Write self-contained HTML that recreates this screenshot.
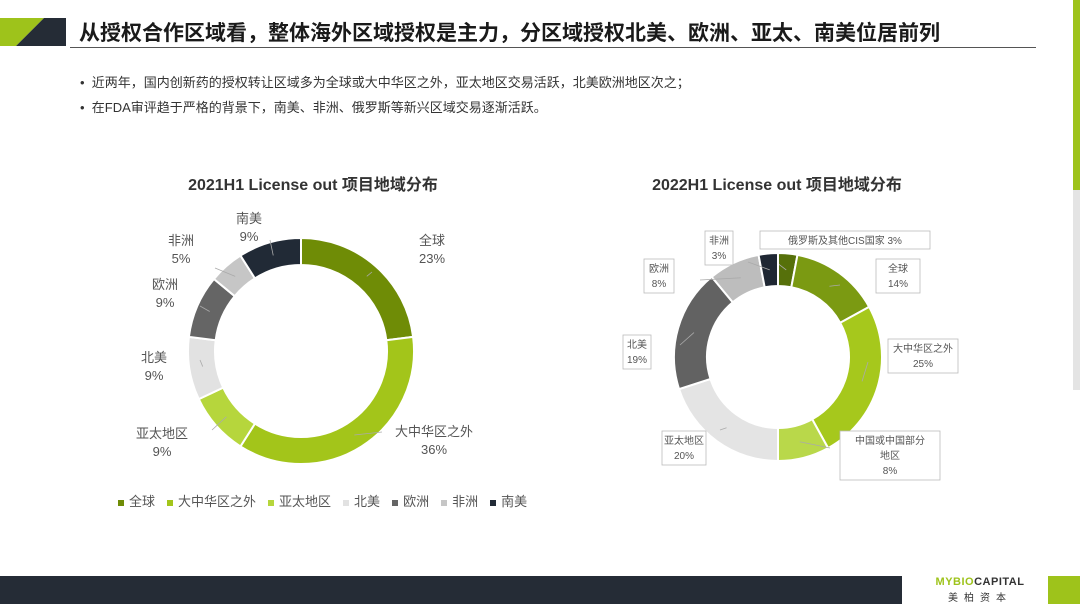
<!DOCTYPE html>
<html><head><meta charset="utf-8">
<style>
body{margin:0;width:1080px;height:608px;background:#fff;position:relative;overflow:hidden;font-family:"Liberation Sans","Noto Sans CJK SC",sans-serif;}
.abs{position:absolute;}
</style></head><body>
<div class="abs" style="left:0;top:0;width:1080px;height:50px;">
<svg width="1080" height="50">
<polygon points="0,18 44,18 16,46 0,46" fill="#9ec31b"/>
<polygon points="44,18 66,18 66,46 16,46" fill="#252c36"/>
<line x1="70" y1="47.5" x2="1036" y2="47.5" stroke="#555" stroke-width="1"/>
</svg>
<div class="abs" style="left:79px;top:17px;font-size:21px;font-weight:bold;color:#1a1a1a;white-space:nowrap;">从授权合作区域看，整体海外区域授权是主力，分区域授权北美、欧洲、亚太、南美位居前列</div>
</div>
<div class="abs" style="left:1073px;top:0;width:7px;height:190px;background:#9ec31b"></div>
<div class="abs" style="left:1073px;top:190px;width:7px;height:200px;background:#e4e4e4"></div>
<div class="abs" style="left:80px;top:72px;font-size:13px;color:#333;">•&nbsp; 近两年，国内创新药的授权转让区域多为全球或大中华区之外，亚太地区交易活跃，北美欧洲地区次之；</div>
<div class="abs" style="left:80px;top:97px;font-size:13px;color:#333;">•&nbsp; 在FDA审评趋于严格的背景下，南美、非洲、俄罗斯等新兴区域交易逐渐活跃。</div>

<svg class="abs" style="left:0;top:0" width="1080" height="608" id="charts">
<text x="313" y="190" text-anchor="middle" font-size="16" font-weight="bold" fill="#333">2021H1 License out 项目地域分布</text>
<text x="777" y="190" text-anchor="middle" font-size="16" font-weight="bold" fill="#333">2022H1 License out 项目地域分布</text>
<g id="c1"></g><g id="c2"></g>
</svg>

<div class="abs" style="left:118px;top:491px;font-size:13px;color:#555;white-space:nowrap;" id="legend"></div>

<div class="abs" style="left:0;top:576px;width:902px;height:28px;background:#252c36"></div>
<div class="abs" style="left:930px;top:576px;width:100px;text-align:center;">
<div style="font-size:11px;font-weight:bold;color:#333;letter-spacing:0.5px"><span style="color:#9ec31b">MYBIO</span>CAPITAL</div>
<div style="font-size:10px;color:#333;letter-spacing:6px;margin-top:1px">美柏资本</div></div>
<div class="abs" style="left:1048px;top:576px;width:32px;height:28px;background:#9ec31b"></div>

<script>
const cats1=["全球","大中华区之外","亚太地区","北美","欧洲","非洲","南美"];
const vals1=[23,36,9,9,9,5,9];
const cols1=["#6f8c06","#a3c51a","#b6d63c","#e2e2e2","#656565","#c6c6c6","#212a36"];
const cats2=["俄罗斯及其他CIS国家","全球","大中华区之外","中国或中国部分地区","亚太地区","北美","欧洲","非洲"];
const vals2=[3,14,25,8,20,19,8,3];
const cols2=["#56700a","#7b9a12","#a6c81c","#b9d84a","#e4e4e4","#626262","#bdbdbd","#1f2733"];
const NS="http://www.w3.org/2000/svg";
function arc(cx,cy,ro,ri,a0,a1){
 const p=(r,a)=>[cx+r*Math.sin(a),cy-r*Math.cos(a)];
 const L=a1-a0>Math.PI?1:0;
 const [x0,y0]=p(ro,a0),[x1,y1]=p(ro,a1),[x2,y2]=p(ri,a1),[x3,y3]=p(ri,a0);
 return `M${x0},${y0}A${ro},${ro} 0 ${L} 1 ${x1},${y1}L${x2},${y2}A${ri},${ri} 0 ${L} 0 ${x3},${y3}Z`;
}
function donut(g,cats,vals,cols,cx,cy,ro,ri,labels,fs,box){
 const tot=vals.reduce((a,b)=>a+b,0);let a=0;
 vals.forEach((v,i)=>{
  const a1=a+v/tot*2*Math.PI;
  const p=document.createElementNS(NS,"path");
  p.setAttribute("d",arc(cx,cy,ro,ri,a,a1));
  p.setAttribute("fill",cols[i]);p.setAttribute("stroke","#fff");p.setAttribute("stroke-width","2");
  
  
  g.appendChild(p);
  const m=(a+a1)/2,rm=(ro+ri)/2;
  const mx=cx+rm*Math.sin(m),my=cy-rm*Math.cos(m);
  const lb=labels[i];
  const ln=document.createElementNS(NS,"line");
  ln.setAttribute("x1",mx);ln.setAttribute("y1",my);ln.setAttribute("x2",lb[2]);ln.setAttribute("y2",lb[3]);
  ln.setAttribute("stroke","#aaa");ln.setAttribute("stroke-width","0.8");
  
  
  g.appendChild(ln);
  const lines=lb[4]||[cats[i]];
  const all=lines.concat([v+"%"]);
  if(box){
   const w=lb[5]||40,h=all.length*(fs+5)+4;
   const r=document.createElementNS(NS,"rect");
   r.setAttribute("x",lb[0]-w/2);r.setAttribute("y",lb[1]-fs-3);r.setAttribute("width",w);r.setAttribute("height",h);
   r.setAttribute("fill","#fff");r.setAttribute("stroke","#bbb");r.setAttribute("stroke-width","0.8");
   
   
   g.appendChild(r);
  }
  all.forEach((t,k)=>{
   const tx=document.createElementNS(NS,"text");
   tx.setAttribute("x",lb[0]);tx.setAttribute("y",lb[1]+k*(fs+5));
   tx.setAttribute("text-anchor","middle");tx.setAttribute("font-size",fs);tx.setAttribute("fill","#555");
   tx.textContent=t;
   
   
   g.appendChild(tx);
  });
  a=a1;
 });
}
donut(document.getElementById("c1"),cats1,vals1,cols1,301,351,113,86,[
 [432,245,372,272],[434,436,382,432,["大中华区之外"]],[162,438,212,430],[154,362,200,360],[165,289,200,306],[181,245,215,268],[249,223,270,240]
],13,false);
const l2=[
 [845,244,768,256,["俄罗斯及其他CIS国家 3%"],170],[898,272,840,285,null,44],[923,352,868,362,null,70],[890,444,830,448,["中国或中国部分","地区"],100],[684,444,720,430,null,44],[637,348,680,345,null,28],[659,272,700,280,null,30],[719,244,748,262,null,28]
];
donut(document.getElementById("c2"),cats2,vals2,cols2,778,357,104,71,l2.map((x,i)=>i==0?[x[0],x[1],x[2],x[3],[x[4][0]],x[5]]:x),10,true);
// fix russia label: single line containing percent
(function(){
 const g=document.getElementById("c2");
 const ts=[...g.querySelectorAll('text')].filter(t=>t.textContent=="3%"&&t.getAttribute('x')=="845");
 ts.forEach(t=>t.remove());
 const rs=[...g.querySelectorAll('rect')];rs[0].setAttribute("height",18);
})();
const lg=document.getElementById("legend");
cats1.forEach((c,i)=>{
 const s=document.createElement("span");
 s.style.marginRight="12px";
 s.innerHTML=`<span style="display:inline-block;width:6px;height:6px;background:${cols1[i]};margin-right:5px;vertical-align:middle"></span>${c}`;
 
 
 lg.appendChild(s);
});
</script>
</body></html>
